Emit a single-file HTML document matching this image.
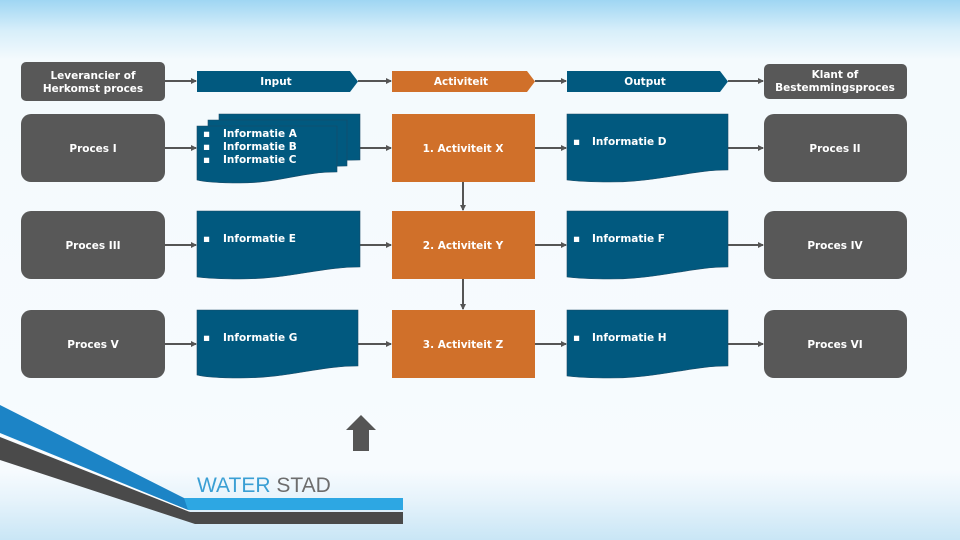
<!DOCTYPE html>
<html><head><meta charset="utf-8"><style>
html,body{margin:0;padding:0;width:960px;height:540px;overflow:hidden}
body{background:linear-gradient(to bottom,#9fd6f3 0px,#d6eefa 30px,#f4fafd 60px,#f7fbfe 470px,#e6f3fb 500px,#c9e6f6 540px)}
svg{position:absolute;left:0;top:0}
text{font-family:"DejaVu Sans","Liberation Sans",sans-serif;font-size:10.5px;font-weight:bold;fill:#fff}
</style></head><body>
<svg width="960" height="540" viewBox="0 0 960 540">
<defs>
<marker id="ar" markerWidth="6" markerHeight="6" refX="5" refY="3" orient="auto" markerUnits="userSpaceOnUse"><path d="M0,0 L6,3 L0,6z" fill="#555"/></marker>
</defs>
<g stroke="#555" stroke-width="2" fill="none" marker-end="url(#ar)">
<line x1="165" y1="81" x2="196" y2="81"/>
<line x1="358" y1="81" x2="391" y2="81"/>
<line x1="535" y1="81" x2="566" y2="81"/>
<line x1="728" y1="81" x2="763" y2="81"/>
<line x1="165" y1="148" x2="196" y2="148"/>
<line x1="360" y1="148" x2="391" y2="148"/>
<line x1="535" y1="148" x2="566" y2="148"/>
<line x1="728" y1="148" x2="763" y2="148"/>
<line x1="165" y1="245" x2="196" y2="245"/>
<line x1="360" y1="245" x2="391" y2="245"/>
<line x1="535" y1="245" x2="566" y2="245"/>
<line x1="728" y1="245" x2="763" y2="245"/>
<line x1="165" y1="344" x2="196" y2="344"/>
<line x1="358" y1="344" x2="391" y2="344"/>
<line x1="535" y1="344" x2="566" y2="344"/>
<line x1="728" y1="344" x2="763" y2="344"/>
<line x1="463" y1="182" x2="463" y2="210"/>
<line x1="463" y1="279" x2="463" y2="309"/>
</g>
<!-- header -->
<rect x="21" y="62" width="144" height="39" rx="5" fill="#585858"/>
<text x="93" y="79" text-anchor="middle">Leverancier of</text>
<text x="93" y="92" text-anchor="middle">Herkomst proces</text>
<path d="M197,71 H350 L358,81.5 L350,92 H197z" fill="#01597f"/>
<text x="276" y="85" text-anchor="middle">Input</text>
<path d="M392,71 H527 L535,81.5 L527,92 H392z" fill="#d0702a"/>
<text x="461" y="85" text-anchor="middle">Activiteit</text>
<path d="M567,71 H720 L728,81.5 L720,92 H567z" fill="#01597f"/>
<text x="645" y="85" text-anchor="middle">Output</text>
<rect x="764" y="64" width="143" height="35" rx="5" fill="#585858"/>
<text x="835" y="78" text-anchor="middle">Klant of</text>
<text x="835" y="91" text-anchor="middle">Bestemmingsproces</text>
<!-- gray boxes -->
<g fill="#585858">
<rect x="21" y="114" width="144" height="68" rx="10"/>
<rect x="21" y="211" width="144" height="68" rx="10"/>
<rect x="21" y="310" width="144" height="68" rx="10"/>
<rect x="764" y="114" width="143" height="68" rx="10"/>
<rect x="764" y="211" width="143" height="68" rx="10"/>
<rect x="764" y="310" width="143" height="68" rx="10"/>
</g>
<text x="93" y="152" text-anchor="middle">Proces I</text>
<text x="93" y="249" text-anchor="middle">Proces III</text>
<text x="93" y="348" text-anchor="middle">Proces V</text>
<text x="835" y="152" text-anchor="middle">Proces II</text>
<text x="835" y="249" text-anchor="middle">Proces IV</text>
<text x="835" y="348" text-anchor="middle">Proces VI</text>
<!-- orange -->
<g fill="#d0702a">
<rect x="392" y="114" width="143" height="68"/>
<rect x="392" y="211" width="143" height="68"/>
<rect x="392" y="310" width="143" height="68"/>
</g>
<text x="463" y="152" text-anchor="middle">1. Activiteit X</text>
<text x="463" y="249" text-anchor="middle">2. Activiteit Y</text>
<text x="463" y="348" text-anchor="middle">3. Activiteit Z</text>
<!-- docs -->
<g fill="#01597f" stroke="#1a4a66" stroke-width="0.6">
<path d="M219,114 H360 V160 C320,160 300,168 260,168 C240,168 230,166 219,165z"/>
<path d="M208,120 H347 V166 C310,166 290,174 250,174 C230,174 220,172 208,171z"/>
<path d="M197,126 H337 V172 C300,172 280,183 240,183 C220,183 205,182 197,180z"/>
<path d="M197,211 H360 V267 C320,267 290,279 240,279 C220,279 205,278 197,277z"/>
<path d="M197,310 H358 V366 C318,366 290,378 240,378 C220,378 205,377 197,375z"/>
<path d="M567,114 H728 V170 C690,170 660,182 610,182 C590,182 575,181 567,180z"/>
<path d="M567,211 H728 V267 C690,267 660,279 610,279 C590,279 575,278 567,277z"/>
<path d="M567,310 H728 V366 C690,366 660,378 610,378 C590,378 575,377 567,376z"/>
</g>
<g>
<text x="203" y="137" font-size="8">▪</text><text x="223" y="137">Informatie A</text>
<text x="203" y="150" font-size="8">▪</text><text x="223" y="150">Informatie B</text>
<text x="203" y="163" font-size="8">▪</text><text x="223" y="163">Informatie C</text>
<text x="203" y="242" font-size="8">▪</text><text x="223" y="242">Informatie E</text>
<text x="203" y="341" font-size="8">▪</text><text x="223" y="341">Informatie G</text>
<text x="573" y="145" font-size="8">▪</text><text x="592" y="145">Informatie D</text>
<text x="573" y="242" font-size="8">▪</text><text x="592" y="242">Informatie F</text>
<text x="573" y="341" font-size="8">▪</text><text x="592" y="341">Informatie H</text>
</g>
<!-- up arrow -->
<path d="M361,415 L376,430 H369 V451 H353 V430 H346z" fill="#555"/>
<!-- bottom stripes -->
<polygon points="0,405 0,433 188,510 403,510 403,498 184,498" fill="#1c84c6"/>
<polygon points="184,498 403,498 403,510 188,510" fill="#2da7e3"/>
<polygon points="0,437 0,460 195,524 403,524 403,512 190,512" fill="#4a4a4a"/>
<line x1="0" y1="435" x2="189" y2="511" stroke="#fff" stroke-width="1"/>
<text x="197" y="492" style="font-family:'Liberation Sans',sans-serif;font-weight:normal;font-size:21px;fill:#3a9fd4">WATER <tspan style="fill:#6d6d6d">STAD</tspan></text>
</svg>
</body></html>
